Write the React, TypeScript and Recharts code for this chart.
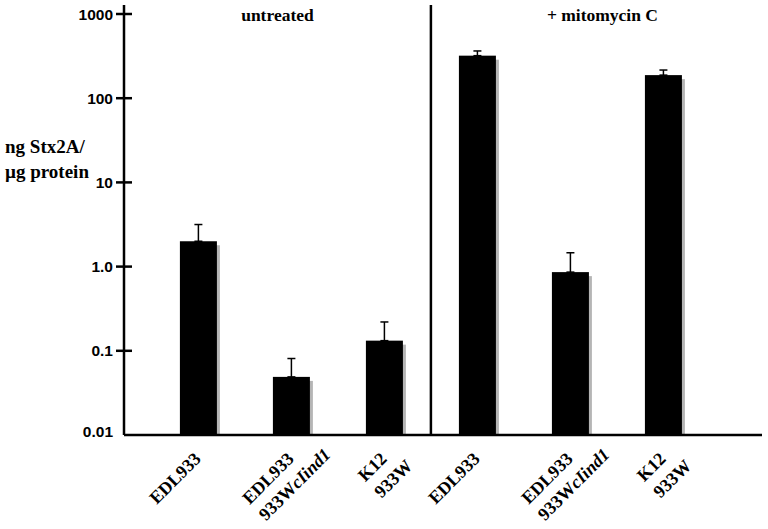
import React from 'react'
import {
  ComposedChart,
  Bar,
  ErrorBar,
  XAxis,
  YAxis,
  ReferenceLine,
  ReferenceArea,
} from 'recharts'

// strain labels, two lines under each bar (second line may carry an italic allele)
const strainLine1 = ['EDL933', 'EDL933', 'K12', 'EDL933', 'EDL933', 'K12']
const strainLine2 = ['', '933W', '933W', '', '933W', '933W']
const strainAllele = ['', 'cIind1', '', '', 'cIind1', '']
const barPos = [1, 2, 3, 4, 5, 6]

// ng Stx2A per µg protein, and the upper error (SD)
const stxLevel = [2.0, 0.049, 0.132, 320, 0.86, 188]
const stxErrUp = [1.16, 0.032, 0.088, 44, 0.6, 28]

const yTicks = [0.01, 0.1, 1, 10, 100, 1000]
const yTickLabels = ['0.01', '0.1', '1.0', '10', '100', '1000']

const groupNames = ['untreated', '+ mitomycin C']

const SERIF = "'Liberation Serif', 'Times New Roman', serif"
const SANS = "'Liberation Sans', Arial, sans-serif"
const LABEL_SIZE = 18

const data = barPos.map((p, i) => ({
  pos: p,
  level: stxLevel[i],
  err: [0, stxErrUp[i]],
}))

let ctx: CanvasRenderingContext2D | null = null
function textWidth(s: string) {
  if (!ctx) ctx = document.createElement('canvas').getContext('2d')
  if (!ctx) return s.length * 10
  ctx.font = `bold ${LABEL_SIZE}px ${SERIF}`
  return ctx.measureText(s).width
}

function ShadowBar(props: any) {
  const { x, y, width, height } = props
  if (height <= 0) return null
  return (
    <g>
      <rect x={x + 3} y={y + 4} width={width} height={height - 4} fill="#b5b5b5" />
      <rect x={x} y={y} width={width} height={height} fill="#000" />
    </g>
  )
}

function YTick(props: any) {
  const { x, y, payload } = props
  const idx = yTicks.indexOf(payload.value)
  return (
    <g>
      {idx > 0 && <line x1={x - 8} x2={x + 8} y1={y} y2={y} stroke="#000" strokeWidth={2.5} />}
      <text
        x={x - 11}
        y={idx === 0 ? y - 4 : y}
        dy="0.36em"
        textAnchor="end"
        fontFamily={SANS}
        fontWeight="bold"
        fontSize={15.5}
        fill="#000"
      >
        {yTickLabels[idx]}
      </text>
    </g>
  )
}

function XTick(props: any) {
  const { x, y, payload } = props
  const i = barPos.indexOf(payload.value)
  if (i < 0) return null
  const w1 = textWidth(strainLine1[i])
  const ax = x - 8
  const rot = `rotate(-45 ${x} ${y})`
  return (
    <g>
      <text
        x={ax}
        y={y + 13}
        transform={rot}
        textAnchor="end"
        fontFamily={SERIF}
        fontWeight="bold"
        fontSize={LABEL_SIZE}
        fill="#000"
      >
        {strainLine1[i]}
      </text>
      {strainLine2[i] && (
        <text
          x={ax - w1}
          y={y + 36}
          transform={rot}
          textAnchor="start"
          fontFamily={SERIF}
          fontWeight="bold"
          fontSize={LABEL_SIZE}
          fill="#000"
        >
          {strainLine2[i]}
          {strainAllele[i] && <tspan fontStyle="italic">{strainAllele[i]}</tspan>}
        </text>
      )}
    </g>
  )
}

const groupLabel = (value: string, dx: number) => ({
  value,
  position: 'insideTop' as const,
  offset: 4,
  dx,
  fill: '#000',
  fontFamily: SERIF,
  fontWeight: 'bold',
  fontSize: 17.5,
})

export default function App() {
  return (
    <div style={{ position: 'absolute', left: 0, top: 0, width: 768, height: 529, background: '#fff' }}>
      <div
        style={{
          position: 'absolute',
          left: 5,
          top: 134,
          fontFamily: SERIF,
          fontWeight: 'bold',
          fontSize: 19,
          lineHeight: '25px',
          color: '#000',
          whiteSpace: 'nowrap',
        }}
      >
        <div>ng Stx2A/</div>
        <div>µg protein</div>
      </div>
      <ComposedChart
        width={768}
        height={529}
        data={data}
        margin={{ top: 5, right: 6, bottom: 0, left: 0 }}
      >
        <XAxis
          dataKey="pos"
          type="number"
          domain={[0.2, 7.06]}
          ticks={barPos}
          allowDataOverflow
          height={94}
          tickLine={false}
          tickSize={0}
          tickMargin={10}
          axisLine={{ stroke: '#000', strokeWidth: 2.5 }}
          tick={<XTick />}
        />
        <YAxis
          type="number"
          scale="log"
          domain={[0.01, 1279]}
          allowDataOverflow
          ticks={yTicks}
          width={124}
          tickLine={false}
          tickSize={0}
          tickMargin={0}
          axisLine={{ stroke: '#000', strokeWidth: 2.5 }}
          tick={<YTick />}
        />
        <ReferenceArea x1={0.2} x2={3.5} fill="none" fillOpacity={0} stroke="none" label={groupLabel(groupNames[0], 0)} />
        <ReferenceArea x1={3.5} x2={7.06} fill="none" fillOpacity={0} stroke="none" label={groupLabel(groupNames[1], 6)} />
        <Bar dataKey="level" barSize={37} shape={<ShadowBar />} isAnimationActive={false}>
          <ErrorBar dataKey="err" width={4} stroke="#000" strokeWidth={1.5} direction="y" />
        </Bar>
        <ReferenceLine x={3.5} stroke="#000" strokeWidth={2.5} />
      </ComposedChart>
    </div>
  )
}
